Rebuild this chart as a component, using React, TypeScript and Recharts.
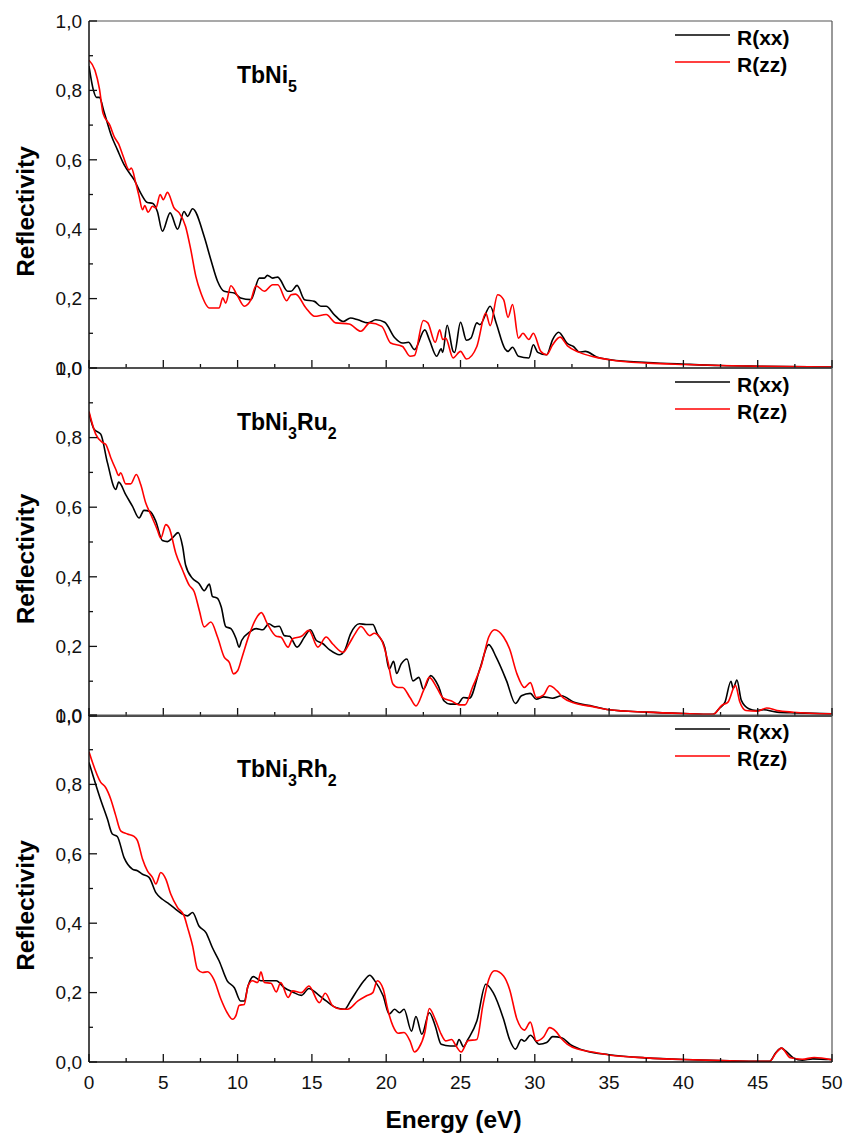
import React from 'react';
import { LineChart, Line, XAxis, YAxis } from 'recharts';

type Pt = [number, number];

// ---- axis ticks ----
const X_TICKS: number[] = [0, 2.5, 5, 7.5, 10, 12.5, 15, 17.5, 20, 22.5, 25, 27.5, 30, 32.5, 35, 37.5, 40, 42.5, 45, 47.5, 50];
const Y_TICKS: number[] = [0, 0.1, 0.2, 0.3, 0.4, 0.5, 0.6, 0.7, 0.8, 0.9, 1.0];

// ---- labels ----
const SERIES_NAMES = ['R(xx)', 'R(zz)'];
const X_TITLE = 'Energy (eV)';
const Y_TITLE = 'Reflectivity';

// ---- TbNi5 ----
const TBNI5_XX: Pt[] = [[0,0.87],[0.3,0.8],[0.5,0.78],[0.7,0.78],[1.0,0.74],[1.5,0.67],[1.9,0.63],[2.36,0.586],[2.8,0.557],[3.03,0.543],[3.48,0.504],[3.93,0.477],[4.27,0.475],[4.6,0.451],[4.94,0.394],[5.46,0.447],[5.96,0.4],[6.4,0.451],[6.63,0.437],[6.97,0.459],[7.75,0.379],[8.2,0.312],[8.65,0.25],[9.1,0.221],[9.78,0.216],[10.2,0.202],[10.9,0.197],[11.46,0.259],[11.8,0.259],[12.0,0.267],[12.36,0.259],[12.7,0.262],[13.37,0.221],[13.6,0.221],[14.0,0.238],[14.5,0.197],[15.17,0.192],[15.6,0.178],[15.96,0.178],[16.5,0.154],[17.1,0.134],[17.6,0.144],[18.1,0.139],[18.76,0.13],[19.3,0.139],[19.9,0.132],[20.56,0.088],[21.1,0.072],[21.5,0.074],[21.9,0.053],[22.6,0.11],[22.9,0.082],[23.4,0.034],[23.7,0.055],[23.8,0.045],[24.1,0.123],[24.5,0.048],[24.6,0.045],[25.0,0.132],[25.4,0.08],[25.7,0.086],[26.1,0.13],[26.3,0.125],[27.0,0.178],[27.4,0.13],[28.0,0.055],[28.2,0.048],[28.5,0.06],[28.9,0.034],[29.6,0.029],[29.9,0.067],[30.2,0.045],[30.8,0.038],[31.2,0.082],[31.6,0.103],[32.2,0.07],[32.6,0.062],[33.0,0.046],[33.4,0.048],[34.2,0.031],[35.1,0.024],[37.6,0.016],[40.1,0.011],[42.5,0.007],[45.2,0.005],[50,0.003]];
const TBNI5_ZZ: Pt[] = [[0,0.887],[0.4,0.858],[0.7,0.805],[0.95,0.733],[1.4,0.7],[1.7,0.666],[2.0,0.645],[2.3,0.61],[2.7,0.571],[2.85,0.576],[3.15,0.533],[3.37,0.495],[3.6,0.456],[3.75,0.468],[3.98,0.449],[4.27,0.466],[4.5,0.461],[4.79,0.5],[5.0,0.485],[5.28,0.506],[5.73,0.461],[6.07,0.447],[6.5,0.408],[6.85,0.341],[7.19,0.264],[7.53,0.216],[8.1,0.173],[8.76,0.173],[9.0,0.202],[9.2,0.187],[9.55,0.237],[10.0,0.207],[10.45,0.178],[10.9,0.197],[11.24,0.237],[11.8,0.221],[12.36,0.24],[12.7,0.24],[13.3,0.194],[13.6,0.211],[13.9,0.213],[14.6,0.173],[15.17,0.149],[15.96,0.154],[16.6,0.13],[17.5,0.127],[18.3,0.106],[18.9,0.13],[19.7,0.12],[20.3,0.072],[21.1,0.062],[21.6,0.034],[21.9,0.036],[22.5,0.137],[22.8,0.13],[23.3,0.074],[23.6,0.11],[23.8,0.082],[24.0,0.086],[24.5,0.029],[25.0,0.048],[25.4,0.026],[26.1,0.062],[26.7,0.158],[27.0,0.122],[27.5,0.211],[27.9,0.197],[28.2,0.146],[28.5,0.183],[28.9,0.086],[29.2,0.1],[29.6,0.082],[29.9,0.1],[30.4,0.048],[30.8,0.038],[31.2,0.067],[31.7,0.089],[32.2,0.064],[33.0,0.045],[34.0,0.032],[35.1,0.023],[37.6,0.014],[40.1,0.01],[42.5,0.007],[45.2,0.005],[50,0.003]];

// ---- TbNi3Ru2 ----
const TBNI3RU2_XX: Pt[] = [[0,0.87],[0.34,0.824],[0.79,0.81],[1.24,0.728],[1.8,0.651],[2.0,0.672],[2.47,0.636],[2.92,0.603],[3.37,0.569],[3.7,0.591],[4.1,0.588],[4.5,0.559],[4.94,0.504],[5.28,0.501],[5.6,0.511],[6.0,0.527],[6.3,0.487],[6.5,0.434],[6.97,0.395],[7.4,0.381],[7.75,0.36],[8.1,0.379],[8.3,0.344],[8.65,0.338],[8.9,0.313],[9.2,0.257],[9.55,0.251],[9.9,0.222],[10.1,0.198],[10.27,0.217],[10.8,0.241],[11.24,0.251],[11.7,0.248],[12.1,0.265],[12.5,0.256],[12.8,0.258],[13.15,0.231],[13.5,0.229],[14.0,0.198],[14.5,0.227],[14.9,0.248],[15.3,0.217],[15.7,0.209],[16.2,0.19],[16.85,0.176],[17.2,0.188],[17.6,0.236],[18.2,0.265],[18.65,0.263],[19.1,0.263],[19.4,0.236],[19.9,0.198],[20.2,0.135],[20.5,0.157],[20.7,0.122],[21.0,0.149],[21.4,0.164],[21.8,0.101],[22.2,0.111],[22.5,0.077],[23.0,0.116],[23.5,0.087],[23.9,0.043],[24.3,0.034],[24.8,0.034],[25.2,0.053],[25.6,0.051],[26.3,0.135],[26.9,0.205],[27.4,0.169],[28.1,0.101],[28.7,0.036],[29.1,0.058],[29.7,0.065],[30.1,0.048],[30.6,0.055],[31.2,0.051],[31.8,0.058],[32.6,0.04],[33.9,0.028],[35.0,0.018],[37.5,0.011],[40.0,0.007],[42.0,0.005],[42.4,0.021],[42.8,0.04],[43.2,0.1],[43.35,0.079],[43.6,0.103],[43.9,0.045],[44.4,0.021],[44.9,0.016],[45.4,0.018],[46.3,0.011],[47.6,0.009],[50,0.006]];
const TBNI3RU2_ZZ: Pt[] = [[0,0.875],[0.45,0.81],[0.9,0.786],[1.12,0.781],[1.46,0.743],[1.8,0.709],[2.0,0.691],[2.13,0.699],[2.47,0.667],[2.8,0.667],[3.19,0.694],[3.48,0.665],[3.82,0.612],[4.16,0.579],[4.6,0.535],[4.83,0.511],[5.17,0.55],[5.4,0.54],[5.84,0.468],[6.3,0.419],[6.74,0.376],[7.08,0.357],[7.42,0.304],[7.75,0.256],[8.2,0.27],[8.65,0.227],[9.1,0.169],[9.44,0.154],[9.73,0.121],[10.0,0.13],[10.3,0.169],[10.8,0.236],[11.24,0.28],[11.6,0.297],[12.0,0.265],[12.6,0.229],[12.9,0.227],[13.4,0.198],[13.7,0.222],[14.3,0.229],[14.8,0.246],[15.4,0.198],[15.96,0.227],[16.4,0.207],[17.1,0.183],[17.5,0.207],[17.9,0.236],[18.3,0.257],[18.9,0.231],[19.2,0.238],[19.7,0.217],[20.1,0.159],[20.45,0.092],[20.8,0.082],[21.1,0.082],[21.6,0.053],[22.0,0.029],[22.5,0.072],[22.9,0.111],[23.4,0.082],[23.8,0.053],[24.4,0.043],[24.9,0.032],[25.3,0.032],[25.8,0.082],[26.4,0.145],[26.9,0.227],[27.3,0.248],[27.9,0.227],[28.3,0.193],[28.8,0.121],[29.3,0.082],[29.7,0.096],[30.1,0.053],[30.6,0.061],[31.0,0.087],[31.5,0.072],[31.9,0.053],[32.6,0.038],[33.9,0.027],[35.0,0.018],[37.5,0.011],[40.0,0.007],[42.0,0.005],[42.6,0.031],[43.0,0.04],[43.5,0.088],[43.8,0.04],[44.2,0.016],[45.0,0.014],[45.6,0.023],[46.3,0.016],[47.4,0.011],[50,0.006]];

// ---- TbNi3Rh2 ----
const TBNI3RH2_XX: Pt[] = [[0,0.863],[0.75,0.76],[1.24,0.7],[1.57,0.657],[1.9,0.65],[2.36,0.589],[2.92,0.556],[3.26,0.551],[3.6,0.541],[4.04,0.532],[4.5,0.488],[4.94,0.469],[5.4,0.455],[5.84,0.44],[6.3,0.426],[6.63,0.421],[6.97,0.431],[7.4,0.392],[7.87,0.373],[8.3,0.33],[8.76,0.291],[9.3,0.234],[9.78,0.214],[10.2,0.176],[10.45,0.176],[10.7,0.219],[11.06,0.246],[11.57,0.234],[12.1,0.234],[12.6,0.234],[13.15,0.214],[13.7,0.202],[14.3,0.192],[14.8,0.212],[15.4,0.195],[15.96,0.176],[16.6,0.157],[17.2,0.152],[17.6,0.176],[18.1,0.21],[18.5,0.234],[18.9,0.25],[19.2,0.236],[19.8,0.19],[20.2,0.138],[20.56,0.152],[20.9,0.142],[21.2,0.152],[21.7,0.089],[22.0,0.131],[22.4,0.08],[22.9,0.142],[23.3,0.104],[23.7,0.051],[24.3,0.046],[24.7,0.046],[24.9,0.065],[25.2,0.044],[25.5,0.065],[26.1,0.118],[26.7,0.224],[27.2,0.2],[27.9,0.123],[28.3,0.065],[28.7,0.037],[29.1,0.065],[29.3,0.06],[29.7,0.077],[30.3,0.051],[30.8,0.056],[31.2,0.073],[31.8,0.07],[32.4,0.05],[33.5,0.031],[35.0,0.021],[37.5,0.012],[40.0,0.007],[42.5,0.004],[44.7,0.002],[45.8,0.002],[46.2,0.026],[46.6,0.04],[46.9,0.031],[47.4,0.012],[48.0,0.005],[48.7,0.009],[50,0.007]];
const TBNI3RH2_ZZ: Pt[] = [[0,0.894],[0.79,0.806],[1.12,0.791],[1.46,0.758],[1.8,0.71],[2.13,0.666],[2.58,0.657],[3.03,0.65],[3.26,0.638],[3.6,0.585],[3.93,0.551],[4.27,0.532],[4.5,0.513],[4.83,0.546],[5.17,0.527],[5.5,0.484],[5.96,0.445],[6.4,0.421],[6.63,0.388],[6.97,0.335],[7.3,0.267],[7.64,0.258],[7.98,0.26],[8.4,0.238],[8.88,0.181],[9.3,0.142],[9.66,0.123],[9.9,0.135],[10.1,0.163],[10.45,0.166],[10.7,0.219],[11.0,0.234],[11.35,0.229],[11.57,0.26],[11.8,0.229],[12.25,0.227],[12.6,0.202],[12.9,0.229],[13.4,0.186],[13.7,0.205],[14.3,0.2],[14.8,0.219],[15.5,0.171],[15.9,0.198],[16.4,0.162],[17.0,0.152],[17.4,0.152],[18.1,0.176],[18.65,0.19],[19.1,0.2],[19.4,0.234],[19.8,0.21],[20.1,0.152],[20.45,0.104],[20.8,0.083],[21.2,0.085],[21.6,0.061],[21.9,0.029],[22.2,0.041],[22.6,0.085],[22.9,0.154],[23.3,0.123],[23.7,0.08],[24.0,0.061],[24.4,0.065],[24.7,0.046],[25.05,0.029],[25.5,0.061],[26.1,0.065],[26.5,0.162],[26.9,0.238],[27.3,0.263],[27.9,0.248],[28.3,0.21],[28.8,0.123],[29.3,0.092],[29.7,0.115],[30.1,0.061],[30.6,0.073],[31.0,0.099],[31.4,0.089],[31.8,0.067],[32.2,0.051],[33.0,0.036],[34.0,0.028],[35.0,0.02],[37.5,0.012],[40.0,0.007],[42.5,0.004],[44.7,0.002],[45.8,0.002],[46.2,0.024],[46.6,0.04],[47.2,0.012],[48.0,0.008],[48.8,0.013],[50,0.006]];

const FONT = '"Liberation Sans", Arial, Helvetica, sans-serif';
const toRows = (pts: Pt[]) => pts.map(([e, r]) => ({ e, r }));

const CHART_W = 853;

const XTick = (props: any) => {
  const { x, y, payload, showLabel } = props;
  const v = payload.value as number;
  const major = Math.abs(v % 5) < 1e-6;
  return (
    <g>
      <line x1={x} x2={x} y1={y} y2={y - (major ? 8 : 4)} stroke="#111" strokeWidth={1.3} />
      {showLabel && major ? (
        <text x={x} y={y + 27} textAnchor="middle" fontFamily={FONT} fontSize={19} fill="#111">
          {String(v)}
        </text>
      ) : null}
    </g>
  );
};

const YTick = (props: any) => {
  const { x, y, payload } = props;
  const v = payload.value as number;
  const major = Math.round(v * 10) % 2 === 0;
  return (
    <g>
      <line x1={x} x2={x + (major ? 8 : 4)} y1={y} y2={y} stroke="#111" strokeWidth={1.3} />
      {major ? (
        <text x={x - 7} y={y + 6.8} textAnchor="end" fontFamily={FONT} fontSize={19} fill="#111">
          {v.toFixed(1).replace('.', ',')}
        </text>
      ) : null}
    </g>
  );
};

type PanelProps = {
  top: number;
  height: number;
  plotTop: number;
  plotBottom: number;
  name: string;
  sub1: string;
  name2?: string;
  sub2?: string;
  xx: Pt[];
  zz: Pt[];
  last: boolean;
};

// plot area: x from 89 to 832; axes take 1px each, margins compensate
const Panel = ({ top, height, plotTop, plotBottom, name, sub1, name2, sub2, xx, zz, last }: PanelProps) => {
  const plotH = plotBottom - plotTop;
  return (
    <div style={{ position: 'absolute', left: 0, top, width: CHART_W, height }}>
      <LineChart
        width={CHART_W}
        height={height}
        margin={{ top: plotTop - 1, right: 20, bottom: height - plotBottom - 1, left: 88 }}
      >
        <XAxis
          xAxisId="b"
          dataKey="e"
          type="number"
          domain={[0, 50]}
          ticks={X_TICKS}
          interval={0}
          height={1}
          tickSize={0}
          tickMargin={0}
          tickLine={false}
          axisLine={{ stroke: '#111', strokeWidth: 1.5 }}
          tick={<XTick showLabel={last} />}
          allowDataOverflow
        />
        <XAxis xAxisId="t" orientation="top" type="number" domain={[0, 50]} height={1} tick={false} tickLine={false} axisLine={{ stroke: '#555', strokeWidth: 1.2 }} />
        <YAxis
          yAxisId="l"
          type="number"
          domain={[0, 1]}
          ticks={Y_TICKS}
          interval={0}
          width={1}
          tickSize={0}
          tickMargin={0}
          tickLine={false}
          axisLine={{ stroke: '#111', strokeWidth: 1.5 }}
          tick={<YTick />}
          allowDataOverflow
        />
        <YAxis yAxisId="r" orientation="right" type="number" domain={[0, 1]} width={1} tick={false} tickLine={false} axisLine={{ stroke: '#555', strokeWidth: 1.2 }} />
        <Line xAxisId="b" yAxisId="l" data={toRows(xx)} dataKey="r" name={SERIES_NAMES[0]} type="monotone" stroke="#000000" strokeWidth={1.6} dot={false} activeDot={false} isAnimationActive={false} />
        <Line xAxisId="b" yAxisId="l" data={toRows(zz)} dataKey="r" name={SERIES_NAMES[1]} type="monotone" stroke="#ff0000" strokeWidth={1.6} dot={false} activeDot={false} isAnimationActive={false} />

        {/* panel title */}
        <text x={237} y={plotTop + 62} fontFamily={FONT} fontSize={23} fontWeight="bold" fill="#000">
          <tspan>{name}</tspan>
          <tspan dy={9} fontSize={16}>{sub1}</tspan>
          {name2 ? <tspan dy={-9} fontSize={23}>{name2}</tspan> : null}
          {sub2 ? <tspan dy={9} fontSize={16}>{sub2}</tspan> : null}
        </text>

        {/* legend */}
        <line x1={675} x2={730} y1={plotTop + 14} y2={plotTop + 14} stroke="#000" strokeWidth={1.6} />
        <text x={737} y={plotTop + 24} fontFamily={FONT} fontSize={21} fontWeight="bold" fill="#000">{SERIES_NAMES[0]}</text>
        <line x1={675} x2={730} y1={plotTop + 41} y2={plotTop + 41} stroke="#ff0000" strokeWidth={1.6} />
        <text x={737} y={plotTop + 51} fontFamily={FONT} fontSize={21} fontWeight="bold" fill="#000">{SERIES_NAMES[1]}</text>

        {/* y title */}
        <text
          x={34}
          y={plotTop + plotH / 2 + 17}
          transform={`rotate(-90, 34, ${plotTop + plotH / 2 + 17})`}
          textAnchor="middle"
          fontFamily={FONT}
          fontSize={24.5}
          fontWeight="bold"
          fill="#000"
        >
          {Y_TITLE}
        </text>

        {last ? (
          <text x={453.5} y={plotBottom + 66} textAnchor="middle" fontFamily={FONT} fontSize={24.5} fontWeight="bold" fill="#000">
            {X_TITLE}
          </text>
        ) : null}
      </LineChart>
    </div>
  );
};

export default function App() {
  return (
    <div style={{ position: 'absolute', left: 0, top: 0, width: 853, height: 1135, background: '#fff' }}>
      <Panel top={0} height={380} plotTop={21} plotBottom={368} name="TbNi" sub1="5" xx={TBNI5_XX} zz={TBNI5_ZZ} last={false} />
      <Panel top={358} height={370} plotTop={10} plotBottom={358} name="TbNi" sub1="3" name2="Ru" sub2="2" xx={TBNI3RU2_XX} zz={TBNI3RU2_ZZ} last={false} />
      <Panel top={705} height={430} plotTop={10} plotBottom={357} name="TbNi" sub1="3" name2="Rh" sub2="2" xx={TBNI3RH2_XX} zz={TBNI3RH2_ZZ} last={true} />
    </div>
  );
}
